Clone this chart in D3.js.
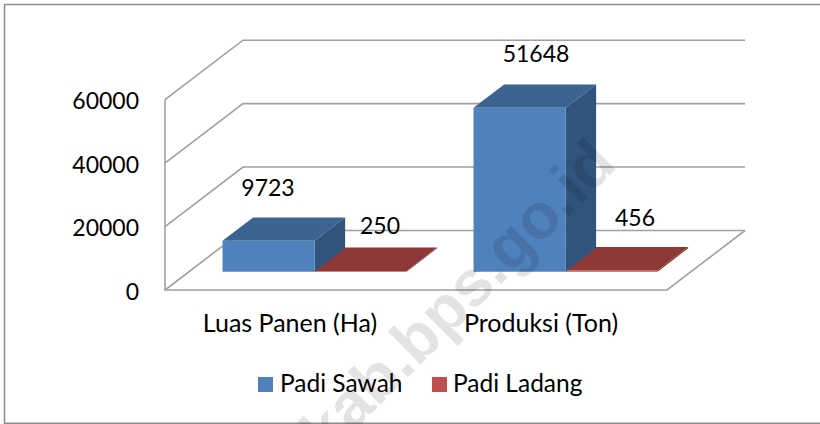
<!DOCTYPE html>
<html><head><meta charset="utf-8">
<style>html,body{margin:0;padding:0;background:#fff}svg{display:block}text{font-family:Lato,Carlito,sans-serif;fill:#000}</style>
<script src="https://cdn.jsdelivr.net/npm/d3@7"></script></head>
<body><svg id="c" width="820" height="424"></svg>
<script>
const categories = ["Luas Panen (Ha)", "Produksi (Ton)"];
const seriesNames = ["Padi Sawah", "Padi Ladang"];
const padiSawah = [9723, 51648];
const padiLadang = [250, 456];
const yTicks = [0, 20000, 40000, 60000];
const frontColors = ["#4F81BD", "#C0504D"];
const topColors = ["#3C6491", "#8E3937"];
const sideColors = ["#31547D", "#7A2F2D"];

const svg = d3.select("#c");
const fs = 23, fsCat = 25, fsLeg = 24.5;
const depth = {dx: 78, dy: -59.5};
const barNear = 0.308, barFar = 0.70;
const y = d3.scaleLinear().domain([0, 60000]).range([290, 99.7]);
const x0 = d3.scaleBand().domain(categories).range([165, 667]);
const x1 = d3.scaleBand().domain(seriesNames).range([33.5, 217.5]);
const P = (x, yy, t) => [x + depth.dx * t, yy + depth.dy * t];
const poly = pts => d3.line()(pts) + "Z";

svg.append("path").attr("d", d3.line()([[820, 4.5], [4.5, 4.5], [4.5, 423.2], [820, 423.2]]))
  .attr("fill", "none").attr("stroke", "#8c8c8c").attr("stroke-width", 1.5);

const g = svg.append("g").attr("fill", "none").attr("stroke", "#a0a0a0").attr("stroke-width", 1.6);
yTicks.forEach(t => {
  const a = P(165, y(t), 0), b = P(165, y(t), 1), c = P(667, y(t), 1);
  g.append("path").attr("d", d3.line()([a, b, c]));
});
g.append("path").attr("d", d3.line()([[165, y(60000)], [165, y(0)], [667, y(0)], P(667, y(0), 1)]));

yTicks.forEach(t => svg.append("text").attr("x", 139).attr("y", y(t) + 1.5).attr("dy", "0.36em")
  .attr("text-anchor", "end").attr("font-size", fs).text(t));
categories.forEach(c => svg.append("text").attr("x", x0(c) + x0.bandwidth() / 2 - 0.5).attr("y", 332)
  .attr("text-anchor", "middle").attr("font-size", fsCat).text(c));

const vals = [padiSawah, padiLadang];
const labelPos = [[[268, 196], [380, 234]], [[536, 62], [635, 226]]];
categories.forEach((c, ci) => {
  [1, 0].forEach(si => {
    const v = vals[si][ci], s = seriesNames[si];
    const xl = x0(c) + x1(s), xr = xl + x1.bandwidth();
    const b = y(0), t = y(v);
    const f = (x, yy) => P(x, yy, barNear), k = (x, yy) => P(x, yy, barFar);
    svg.append("path").attr("d", poly([f(xr, b), k(xr, b), k(xr, t), f(xr, t)])).attr("fill", sideColors[si]);
    svg.append("path").attr("d", poly([f(xl, t), k(xl, t), k(xr, t), f(xr, t)])).attr("fill", topColors[si]);
    svg.append("path").attr("d", poly([f(xl, b), f(xr, b), f(xr, t), f(xl, t)])).attr("fill", frontColors[si]);
    const lp = labelPos[ci][si];
    svg.append("text").attr("x", lp[0]).attr("y", lp[1]).attr("text-anchor", "middle")
      .attr("font-size", fs).text(v);
  });
});

const legX = [258, 432], legTx = [280, 453];
seriesNames.forEach((s, i) => {
  svg.append("rect").attr("x", legX[i]).attr("y", 377).attr("width", 15).attr("height", 15).attr("fill", frontColors[i]);
  svg.append("text").attr("x", legTx[i]).attr("y", 392).attr("font-size", fsLeg).text(s);
});

svg.append("text").attr("transform", "translate(327,458) rotate(-45)")
  .attr("font-size", 64).attr("font-weight", 700).attr("style", "fill:#000;fill-opacity:.11;font-family:'Liberation Sans',Arial,sans-serif")
  .text("kab.bps.go.id");
</script></body></html>
